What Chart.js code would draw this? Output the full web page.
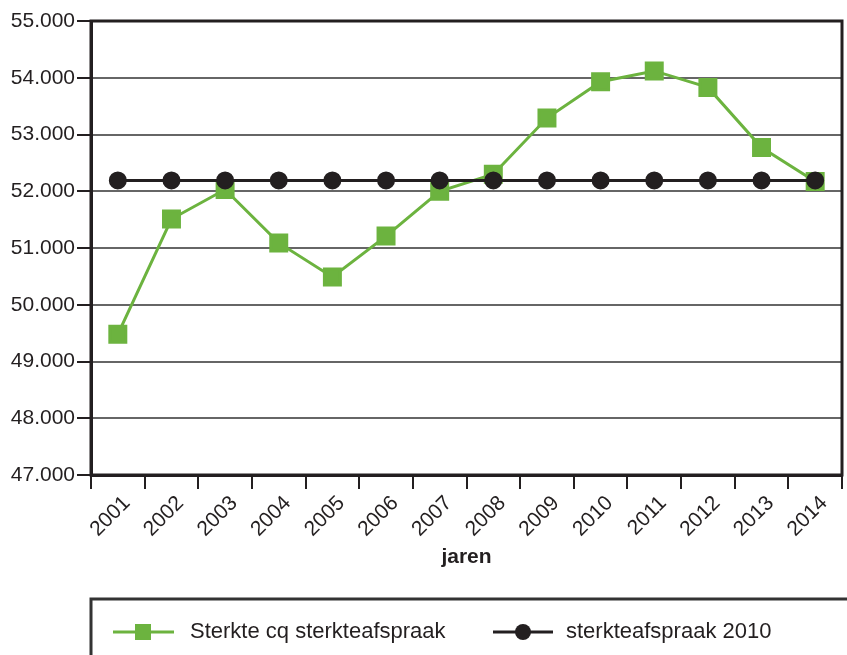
<!DOCTYPE html>
<html>
<head>
<meta charset="utf-8">
<script src="https://cdn.jsdelivr.net/npm/chart.js@4.4.1/dist/chart.umd.min.js"></script>
<style>
  html, body { margin: 0; padding: 0; background: #fff; overflow: hidden; }
  #wrap { width: 847px; height: 655px; position: relative; }
  canvas { display: block; }
</style>
</head>
<body>
<div id="wrap"><canvas id="sterkteChart"></canvas></div>
<script>
const years = ["2001", "2002", "2003", "2004", "2005", "2006", "2007",
  "2008", "2009", "2010", "2011", "2012", "2013", "2014"];
const sterkte = [49480, 51510, 52030, 51090, 50490, 51210, 52000,
  52300, 53290, 53930, 54120, 53830, 52770, 52170];
const afspraak2010 = [52190, 52190, 52190, 52190, 52190, 52190, 52190,
  52190, 52190, 52190, 52190, 52190, 52190, 52190];
const yMin = 47000;
const yMax = 55000;
const yStep = 1000;
const seriesNames = ["Sterkte cq sterkteafspraak", "sterkteafspraak 2010"];
const xTitle = "jaren";

const green = "#6cb33f";
const dark = "#231f20";
const FONT = "'Liberation Sans', Arial, sans-serif";

// kader rond plotgebied + legenda onderaan
const framePlugin = {
  id: "frame",
  afterDraw(chart) {
    const { ctx, chartArea: a } = chart;
    ctx.save();
    ctx.strokeStyle = dark;
    ctx.lineWidth = 3;
    ctx.strokeRect(a.left, a.top, a.right - a.left, a.bottom - a.top);

    // legenda
    ctx.lineWidth = 3;
    ctx.strokeStyle = "#333";
    ctx.strokeRect(a.left, 599, 900, 100);
    const ly = 632;
    ctx.font = "22px " + FONT;
    ctx.textBaseline = "middle";
    ctx.fillStyle = dark;

    ctx.strokeStyle = green;
    ctx.beginPath();
    ctx.moveTo(113, ly);
    ctx.lineTo(174, ly);
    ctx.stroke();
    ctx.fillStyle = green;
    ctx.fillRect(135, ly - 8, 16, 16);
    ctx.fillStyle = dark;
    ctx.fillText(seriesNames[0], 190, ly);

    ctx.strokeStyle = dark;
    ctx.beginPath();
    ctx.moveTo(493, ly);
    ctx.lineTo(553, ly);
    ctx.stroke();
    ctx.beginPath();
    ctx.arc(523, ly, 8, 0, Math.PI * 2);
    ctx.fill();
    ctx.fillText(seriesNames[1], 566, ly);
    ctx.restore();
  },
};

document.addEventListener("DOMContentLoaded", () => {
  const ctx = document.getElementById("sterkteChart").getContext("2d");
  new Chart(ctx, {
    type: "line",
    data: {
      labels: years,
      datasets: [
        {
          label: seriesNames[0],
          data: sterkte,
          borderColor: green,
          backgroundColor: green,
          borderWidth: 3,
          pointStyle: "rect",
          pointRadius: 11.3,
          pointHoverRadius: 11.3,
          tension: 0,
          order: 2,
        },
        {
          label: seriesNames[1],
          data: afspraak2010,
          borderColor: dark,
          backgroundColor: dark,
          borderWidth: 3,
          pointStyle: "circle",
          pointRadius: 7.5,
          pointHoverRadius: 7.5,
          tension: 0,
          order: 1,
        },
      ],
    },
    options: {
      responsive: true,
      maintainAspectRatio: false,
      animation: false,
      layout: { autoPadding: false, padding: { top: 21, right: 5, bottom: 81, left: 0 } },
      plugins: {
        legend: { display: false },
        tooltip: { enabled: false },
      },
      scales: {
        x: {
          offset: true,
          grid: {
            offset: true,
            drawOnChartArea: false,
            drawTicks: true,
            tickLength: 14,
            tickColor: dark,
            lineWidth: 2,
          },
          border: { display: true, color: dark, width: 3 },
          ticks: {
            color: dark,
            font: { family: FONT, size: 21 },
            minRotation: 45,
            maxRotation: 45,
            padding: 2,
            labelOffset: 9,
          },
          title: {
            display: true,
            text: xTitle,
            color: dark,
            font: { family: FONT, size: 21, weight: "bold" },
            padding: { top: 4, bottom: 4 },
          },
          afterFit: (scale) => {
            scale.height = 99;
            scale.paddingLeft = 0;
            scale.paddingRight = 0;
          },
        },
        y: {
          min: yMin,
          max: yMax,
          grid: {
            color: "#666",
            lineWidth: 2,
            tickLength: 14,
            tickColor: dark,
          },
          border: { display: true, color: dark, width: 3 },
          ticks: {
            stepSize: yStep,
            color: dark,
            padding: 2,
            font: { family: FONT, size: 21 },
            callback: (value) => value.toLocaleString("nl-NL", { minimumFractionDigits: 0 }).replace(",", "."),
          },
          afterFit: (scale) => {
            scale.width = 91;
            scale.paddingTop = 0;
            scale.paddingBottom = 0;
          },
        },
      },
    },
    plugins: [framePlugin],
  });
});
</script>
</body>
</html>
